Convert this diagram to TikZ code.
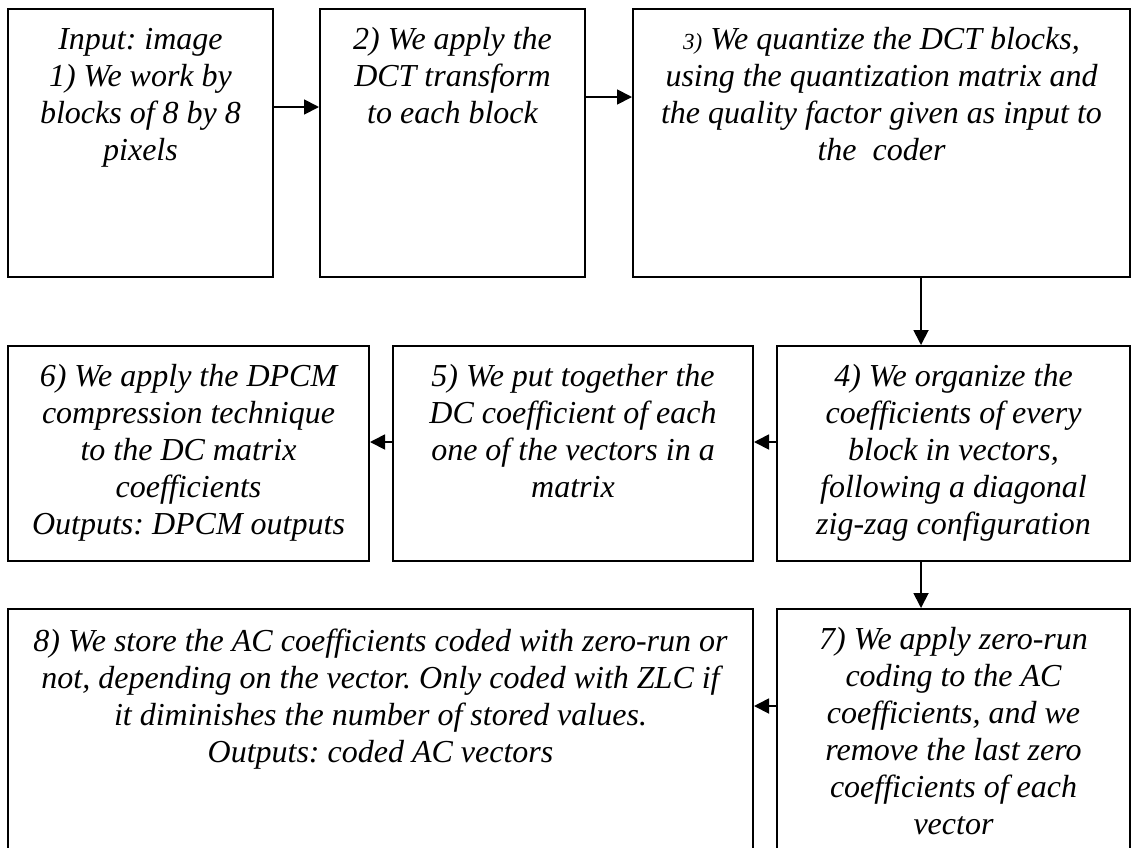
\documentclass[tikz,border=0pt]{standalone}
\usepackage{fontspec}
\setmainfont{Liberation Serif}
\usetikzlibrary{arrows.meta}
\frenchspacing
% multi-line centred label whose baseline is that of its first line
\newcommand{\stagetext}[1]{\begin{tabular}[t]{@{}c@{}}#1\end{tabular}}
\begin{document}
\begin{tikzpicture}[x=1pt,y=-1pt,
  stage/.style={draw=black, line width=2pt, rectangle, inner sep=0pt},
  txt/.style={inner sep=0pt, anchor=base,
    font=\fontsize{32}{37}\selectfont\itshape},
  flow/.style={line width=1.8pt, -{Triangle[length=15pt,width=15pt]}}]
\useasboundingbox (0,0) rectangle (1131,847);
\clip (0,0) rectangle (1131,847);

% first row
\node[stage, minimum width=265pt, minimum height=268pt] (b1) at (140.5,143) {};
\node[stage, minimum width=265pt, minimum height=268pt] (b2) at (452.5,143) {};
\node[stage, minimum width=497pt, minimum height=268pt] (b3) at (881.5,143) {};
% second row
\node[stage, minimum width=361pt, minimum height=215pt] (b6) at (188.5,453.5) {};
\node[stage, minimum width=360pt, minimum height=215pt] (b5) at (573,453.5) {};
\node[stage, minimum width=353pt, minimum height=215pt] (b4) at (953.5,453.5) {};
% third row (runs off the lower edge)
\node[stage, minimum width=745pt, minimum height=291pt] (b8) at (380.5,754.5) {};
\node[stage, minimum width=353pt, minimum height=291pt] (b7) at (953.5,754.5) {};

% texts
\node[txt] (t1) at (140.5,49) {\stagetext{Input: image\\1) We work by\\blocks of 8 by 8\\pixels}};
\node[txt] (t2) at (452.5,49) {\stagetext{2) We apply the\\DCT transform\\to each block}};
\node[txt] (t3) at (881.5,49) {\stagetext{{\fontsize{23}{37}\selectfont 3)} We quantize the DCT blocks,\\using the quantization matrix and\\the quality factor given as input to\\the\ \ coder}};
\node[txt] (t6) at (188.5,386) {\stagetext{6) We apply the DPCM\\compression technique\\to the DC matrix\\coefficients\\Outputs: DPCM outputs}};
\node[txt] (t5) at (573,386) {\stagetext{5) We put together the\\DC coefficient of each\\one of the vectors in a\\matrix}};
\node[txt] (t4) at (953.5,386) {\stagetext{4) We organize the\\coefficients of every\\block in vectors,\\following a diagonal\\zig-zag configuration}};
\node[txt] (t8) at (380.5,651) {\stagetext{8) We store the AC coefficients coded with zero-run or\\not, depending on the vector. Only coded with ZLC if\\it diminishes the number of stored values.\\Outputs: coded AC vectors}};
\node[txt] (t7) at (953.5,649) {\stagetext{7) We apply zero-run\\coding to the AC\\coefficients, and we\\remove the last zero\\coefficients of each\\vector}};

% connectors
\draw[flow] (b1.east |- 0,107) -- (b2.west |- 0,107);
\draw[flow] (b2.east |- 0,97) -- (b3.west |- 0,97);
\draw[flow] (b3.south -| 921,0) -- (b4.north -| 921,0);
\draw[flow] (b4.west |- 0,442) -- (b5.east |- 0,442);
\draw[flow] (b5.west |- 0,442) -- (b6.east |- 0,442);
\draw[flow] (b4.south -| 921,0) -- (b7.north -| 921,0);
\draw[flow] (b7.west |- 0,706) -- (b8.east |- 0,706);
\end{tikzpicture}
\end{document}
